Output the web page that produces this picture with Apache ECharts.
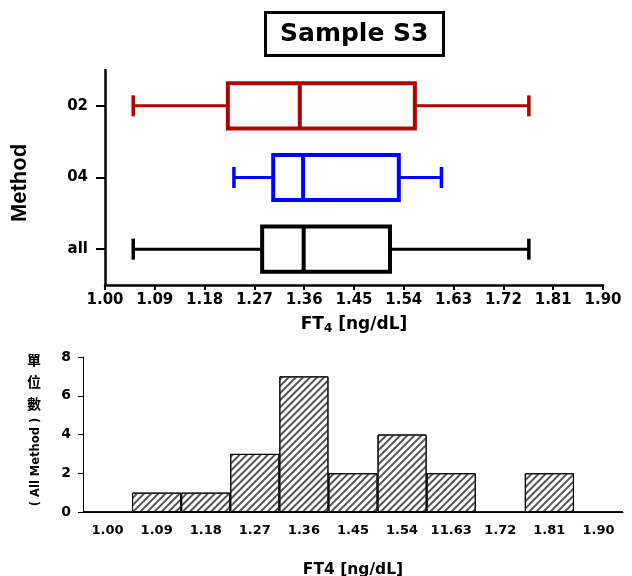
<!DOCTYPE html>
<html>
<head>
<meta charset="utf-8">
<script src="https://cdn.jsdelivr.net/npm/echarts@6/dist/echarts.min.js"></script>
<style>
html,body{margin:0;padding:0;background:#fff;}
#c{width:632px;height:576px;}
</style>
</head>
<body>
<div id="c"></div>
<script>
// ---- data ----
const methods = ['all', '04', '02'];
const boxAll = [1.051, 1.284, 1.359, 1.515, 1.766]; // min, Q1, median, Q3, max
const box04  = [1.233, 1.304, 1.358, 1.531, 1.608];
const box02  = [1.051, 1.222, 1.352, 1.560, 1.766];
const methodColors = ['#000000', '#0000ff', '#b00000'];
const topTicks = ['1.00','1.09','1.18','1.27','1.36','1.45','1.54','1.63','1.72','1.81','1.90'];

const histCats = ['1.00','1.09','1.18','1.27','1.36','1.45','1.54','11.63','1.72','1.81','1.90'];
const histCounts = [0, 1, 1, 3, 7, 2, 4, 2, 0, 2, 0];

// axis offset: values expressed in hundredths above 1.00 so ticks start at min
const toAxis = v => Math.round((v - 1) * 100000) / 1000;
const boxes = [boxAll, box04, box02];
const boxData = boxes.map((b, i) => [i].concat(b.map(toAxis)));

const chart = echarts.init(document.getElementById('c'));
const boldFont = 'DejaVu Sans';

const option = {
  animation: false,
  backgroundColor: '#fff',
  title: {
    text: 'Sample S3',
    left: 265, top: 12,
    padding: [10, 15, 9, 15],
    borderWidth: 3, borderColor: '#000',
    textStyle: { fontFamily: boldFont, fontWeight: 'bold', fontSize: 25, color: '#000' }
  },
  grid: [
    { left: 105, right: 29, top: 70, bottom: 291, outerBoundsMode: 'none', containLabel: false },
    { left: 83, right: 9, top: 357, bottom: 64, outerBoundsMode: 'none', containLabel: false }
  ],
  xAxis: [
    {
      gridIndex: 0, type: 'value', min: 0, max: 90, interval: 9,
      splitLine: { show: false },
      axisLine: { show: true, lineStyle: { color: '#000', width: 2.5 } },
      axisTick: { show: true, length: 5, lineStyle: { color: '#000', width: 2 } },
      axisLabel: {
        margin: 8, color: '#000', fontFamily: boldFont, fontWeight: 'bold', fontSize: 15,
        formatter: (v) => topTicks[Math.round(v / 9)]
      },
      name: '{a|FT}{s|4}{a| [ng/dL]}',
      nameLocation: 'middle', nameGap: 30,
      nameTextStyle: {
        rich: {
          a: { fontFamily: boldFont, fontWeight: 'bold', fontSize: 17, color: '#000' },
          s: { fontFamily: boldFont, fontWeight: 'bold', fontSize: 12, color: '#000', verticalAlign: 'bottom', padding: [8, 0, 0, 0] }
        }
      }
    },
    {
      gridIndex: 1, type: 'category', data: histCats,
      axisLine: { show: true, lineStyle: { color: '#000', width: 1 } },
      axisTick: { show: false },
      axisLabel: { margin: 12, color: '#000', fontFamily: boldFont, fontWeight: 'bold', fontSize: 13, interval: 0 },
      name: 'FT4 [ng/dL]', nameLocation: 'middle', nameGap: 50,
      nameTextStyle: { fontFamily: boldFont, fontWeight: 'bold', fontSize: 15.5, color: '#000' }
    }
  ],
  yAxis: [
    {
      gridIndex: 0, type: 'category', data: methods,
      axisLine: { show: true, lineStyle: { color: '#000', width: 2.5 } },
      axisTick: { show: true, alignWithLabel: true, length: 9, lineStyle: { color: '#000', width: 2 } },
      axisLabel: { margin: 17, color: '#000', fontFamily: boldFont, fontWeight: 'bold', fontSize: 15 }
    },
    {
      gridIndex: 1, type: 'value', min: 0, max: 8, interval: 2,
      splitLine: { show: false },
      axisLine: { show: true, lineStyle: { color: '#000', width: 1 } },
      axisTick: { show: true, length: 5, lineStyle: { color: '#000', width: 1 } },
      axisLabel: { margin: 12, color: '#000', fontFamily: boldFont, fontWeight: 'bold', fontSize: 14 }
    }
  ],
  graphic: [
    {
      type: 'text', x: 20, y: 183, rotation: Math.PI / 2,
      style: { text: 'Method', fontFamily: 'Liberation Sans', fontWeight: 'bold', fontSize: 22, fill: '#000', align: 'center', verticalAlign: 'middle' }
    },
    {
      type: 'text', x: 34, y: 360,
      style: { text: '單', fontFamily: 'Noto Sans CJK TC', fontWeight: 'bold', fontSize: 14, fill: '#000', align: 'center', verticalAlign: 'middle' }
    },
    {
      type: 'text', x: 34, y: 382,
      style: { text: '位', fontFamily: 'Noto Sans CJK TC', fontWeight: 'bold', fontSize: 14, fill: '#000', align: 'center', verticalAlign: 'middle' }
    },
    {
      type: 'text', x: 34, y: 404,
      style: { text: '數', fontFamily: 'Noto Sans CJK TC', fontWeight: 'bold', fontSize: 14, fill: '#000', align: 'center', verticalAlign: 'middle' }
    },
    {
      type: 'text', x: 36, y: 462, rotation: Math.PI / 2,
      style: { text: '( All Method )', fontFamily: boldFont, fontWeight: 'bold', fontSize: 11.5, fill: '#000', align: 'center', verticalAlign: 'middle' }
    }
  ],
  series: [
    {
      type: 'custom', xAxisIndex: 0, yAxisIndex: 0,
      data: boxData,
      encode: { x: [1, 2, 3, 4, 5], y: 0 },
      renderItem: function (params, api) {
        const cat = api.value(0);
        const p = [1, 2, 3, 4, 5].map(i => api.coord([api.value(i), cat]));
        const band = api.size([0, 1])[1];
        const bh = band * 0.63;
        const ch = 21;
        const cy = p[0][1];
        const col = methodColors[cat];
        const ls = (w) => ({ stroke: col, lineWidth: w, fill: null });
        return {
          type: 'group',
          children: [
            { type: 'line', shape: { x1: p[0][0], y1: cy, x2: p[1][0], y2: cy }, style: ls(3) },
            { type: 'line', shape: { x1: p[3][0], y1: cy, x2: p[4][0], y2: cy }, style: ls(3) },
            { type: 'line', shape: { x1: p[0][0], y1: cy - ch / 2, x2: p[0][0], y2: cy + ch / 2 }, style: ls(3.5) },
            { type: 'line', shape: { x1: p[4][0], y1: cy - ch / 2, x2: p[4][0], y2: cy + ch / 2 }, style: ls(3.5) },
            { type: 'rect', shape: { x: p[1][0], y: cy - bh / 2, width: p[3][0] - p[1][0], height: bh }, style: { stroke: col, lineWidth: 4, fill: '#fff' } },
            { type: 'line', shape: { x1: p[2][0], y1: cy - bh / 2, x2: p[2][0], y2: cy + bh / 2 }, style: ls(4) }
          ]
        };
      }
    },
    {
      type: 'bar', xAxisIndex: 1, yAxisIndex: 1,
      data: histCounts,
      barCategoryGap: '0%',
      itemStyle: {
        color: '#fff', borderColor: '#000', borderWidth: 1,
        decal: {
          symbol: 'rect', symbolSize: 1, color: '#555555',
          dashArrayX: [1, 0], dashArrayY: [1.3, 2.5],
          rotation: -Math.PI / 4
        }
      }
    }
  ]
};
chart.setOption(option);
</script>
</body>
</html>
